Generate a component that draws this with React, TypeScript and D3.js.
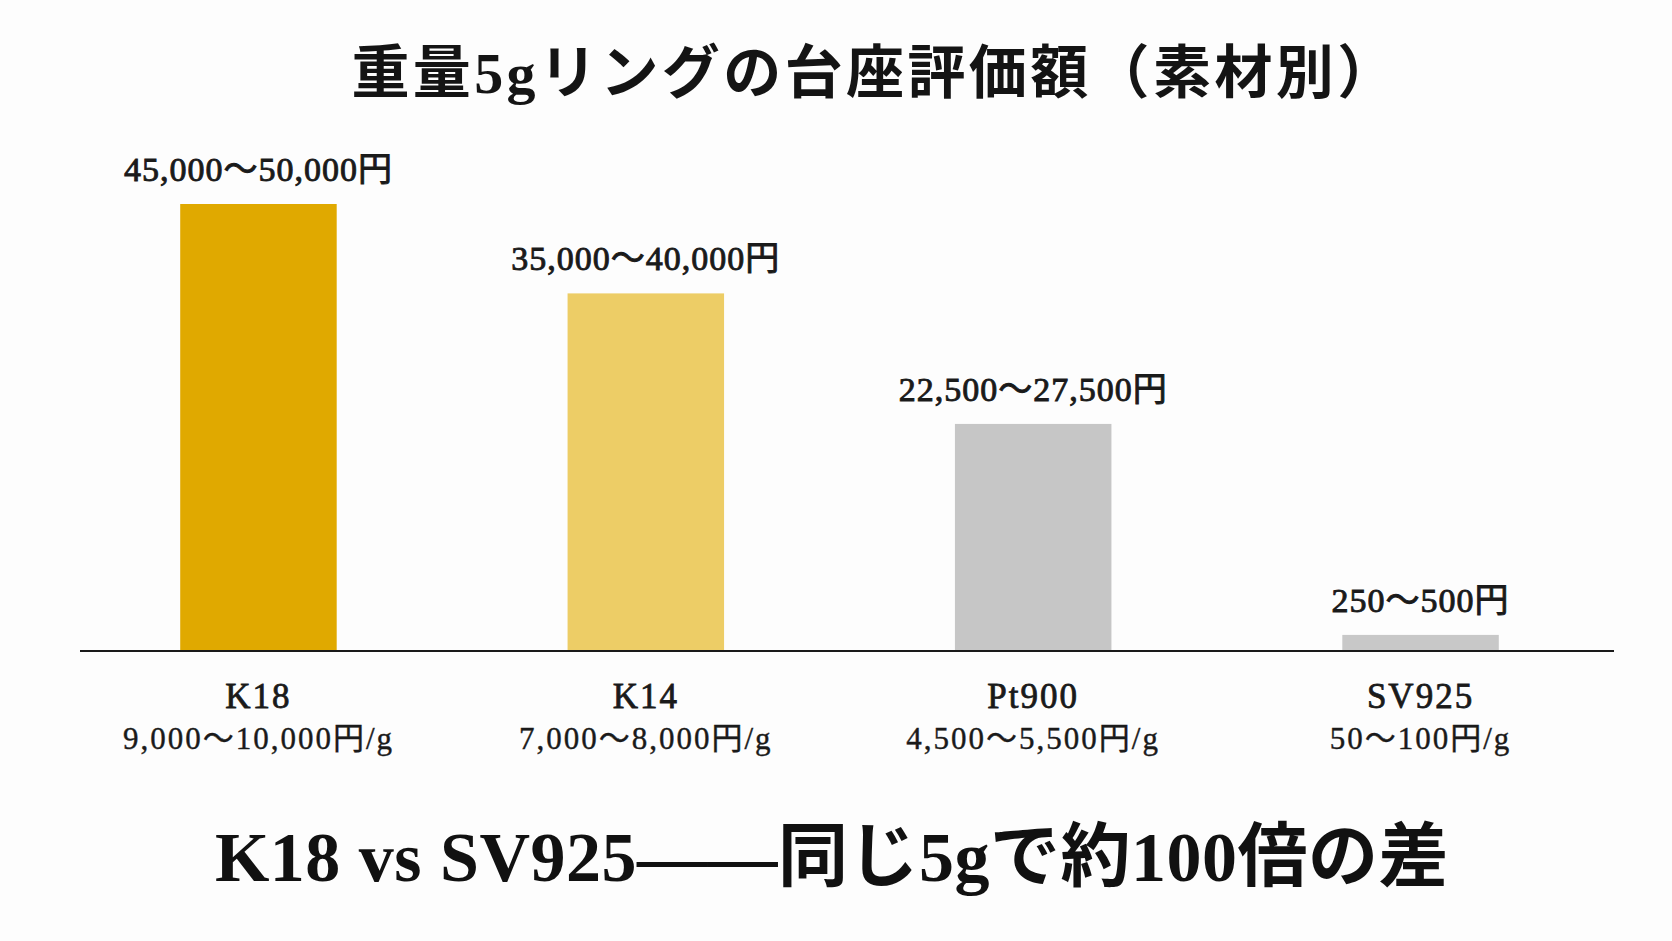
import React, { useEffect, useRef } from 'react';
import * as d3 from 'd3';

const title = '重量5gリングの台座評価額（素材別）';
const headline = 'K18 vs SV925——同じ5gで約100倍の差';
const materials = ['K18', 'K14', 'Pt900', 'SV925'];
const rangeLabels = ['45,000〜50,000円', '35,000〜40,000円', '22,500〜27,500円', '250〜500円'];
const perGramLabels = ['9,000〜10,000円/g', '7,000〜8,000円/g', '4,500〜5,500円/g', '50〜100円/g'];
// bar heights as drawn in the picture (yen)
const barValues = [50000, 40000, 25400, 1800];
const barColors = ['#e0a900', '#edcd66', '#c6c6c6', '#c8c8c8'];

const W = 1672;
const H = 941;
const FONT = '"Liberation Serif", "DejaVu Serif", "Noto Sans CJK JP", serif';
const INK = '#1a1a1a';

const draw = (node: SVGSVGElement) => {
    const svg = d3.select(node);
    svg.selectAll('*').remove();

    const baseY = 651;
    const x = d3.scaleBand()
        .domain(materials)
        .range([64, 1615])
        .paddingInner(0.596)
        .paddingOuter(0.3);
    const y = d3.scaleLinear()
        .domain([0, 50000])
        .range([baseY, 204]);

    svg.append('rect').attr('width', W).attr('height', H).attr('fill', '#fdfdfd');

    svg.append('text')
        .text(title)
        .attr('x', 875)
        .attr('y', 93)
        .attr('font-size', 58)
        .attr('letter-spacing', 3.4)
        .attr('font-weight', 'bold')
        .attr('fill', '#141414')
        .style('text-anchor', 'middle');

    svg.append('g')
        .selectAll('rect')
        .data(barValues)
        .enter()
        .append('rect')
        .attr('x', (d, i) => x(materials[i]) as number)
        .attr('y', d => y(d))
        .attr('width', x.bandwidth())
        .attr('height', d => baseY - y(d))
        .attr('fill', (d, i) => barColors[i]);

    svg.append('line')
        .attr('x1', 80)
        .attr('x2', 1614)
        .attr('y1', baseY)
        .attr('y2', baseY)
        .attr('stroke', INK)
        .attr('stroke-width', 2);

    const cx = (i: number) => (x(materials[i]) as number) + x.bandwidth() / 2;

    // value range above each bar (medium weight: regular + thin stroke)
    svg.append('g')
        .selectAll('text')
        .data(rangeLabels)
        .enter()
        .append('text')
        .text(d => d)
        .attr('x', (d, i) => cx(i))
        .attr('y', (d, i) => y(barValues[i]) - 23)
        .attr('font-size', 34)
        .attr('letter-spacing', 1)
        .attr('fill', INK)
        .attr('stroke', INK)
        .attr('stroke-width', 0.9)
        .style('text-anchor', 'middle');

    svg.append('g')
        .selectAll('text')
        .data(materials)
        .enter()
        .append('text')
        .text(d => d)
        .attr('x', (d, i) => cx(i))
        .attr('y', 708)
        .attr('font-size', 35)
        .attr('letter-spacing', 2)
        .attr('fill', INK)
        .attr('stroke', INK)
        .attr('stroke-width', 0.8)
        .style('text-anchor', 'middle');

    svg.append('g')
        .selectAll('text')
        .data(perGramLabels)
        .enter()
        .append('text')
        .text(d => d)
        .attr('x', (d, i) => cx(i))
        .attr('y', 749)
        .attr('font-size', 31)
        .attr('letter-spacing', 2)
        .attr('fill', INK)
        .attr('stroke', INK)
        .attr('stroke-width', 0.4)
        .style('text-anchor', 'middle');

    svg.append('text')
        .text(headline)
        .attr('x', 832)
        .attr('y', 881)
        .attr('font-size', 70)
        .attr('letter-spacing', 0.5)
        .attr('font-weight', 'bold')
        .attr('fill', '#111')
        .style('text-anchor', 'middle');
};

export default function App() {
    const ref = useRef<SVGSVGElement>(null);
    useEffect(() => {
        if (ref.current) draw(ref.current);
    }, []);
    return (
        <svg
            ref={ref}
            width={W}
            height={H}
            style={{ position: 'absolute', left: 0, top: 0, fontFamily: FONT }}
        />
    );
}
